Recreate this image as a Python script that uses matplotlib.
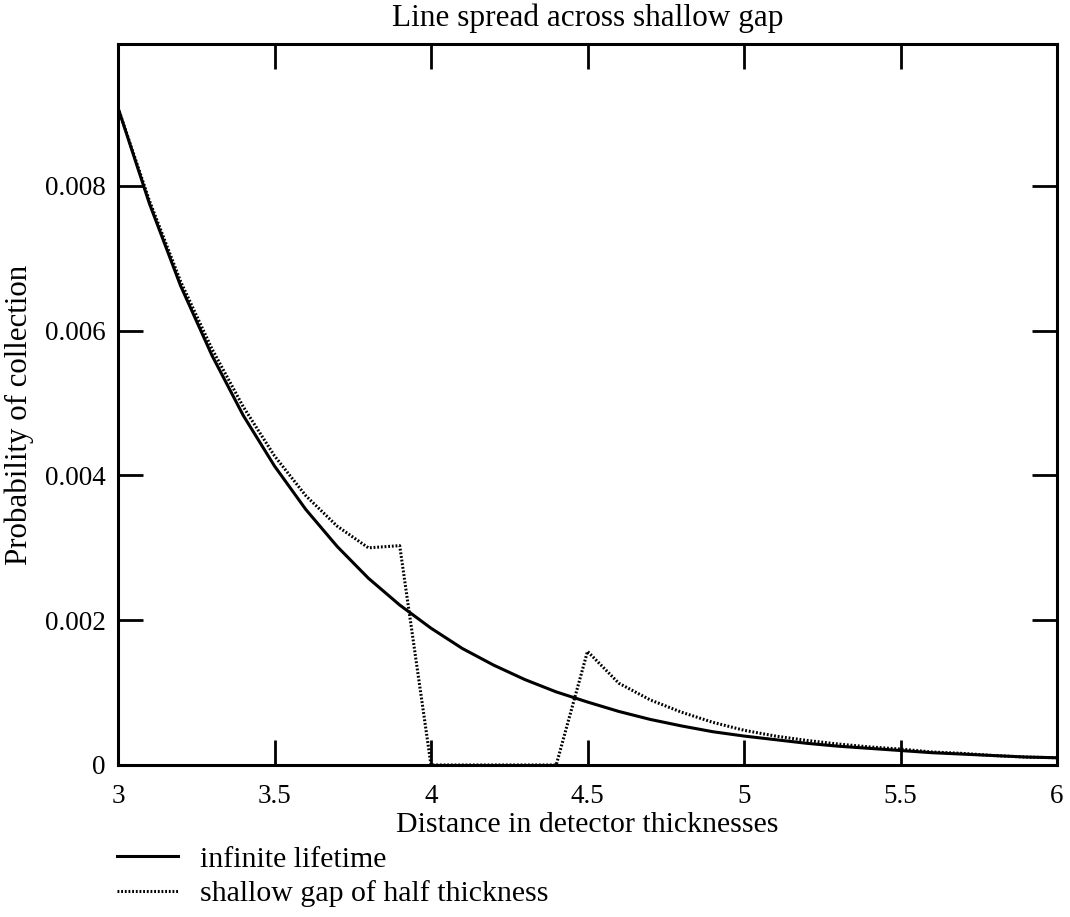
import matplotlib
matplotlib.use("Agg")
import matplotlib.pyplot as plt
from matplotlib.lines import Line2D

plt.rcParams['font.family'] = ['Liberation Serif', 'DejaVu Serif']

x = [3.0, 3.1, 3.2, 3.3, 3.4, 3.5, 3.6, 3.7, 3.8, 3.9, 4.0,
     4.1, 4.2, 4.3, 4.4, 4.5, 4.6, 4.7, 4.8, 4.9, 5.0,
     5.1, 5.2, 5.3, 5.4, 5.5, 5.6, 5.7, 5.8, 5.9, 6.0]
infinite = [0.00908, 0.00776, 0.00662, 0.00566, 0.00483, 0.00413, 0.00353, 0.00302, 0.00258, 0.00221, 0.00189,
            0.00161, 0.00138, 0.00118, 0.00101, 0.00087, 0.00074, 0.00063, 0.00054, 0.00046, 0.00040,
            0.00035, 0.00030, 0.00026, 0.00023, 0.00020, 0.00017, 0.00015, 0.00013, 0.00011, 0.00010]
shallow = [0.00908, 0.00780, 0.00668, 0.00575, 0.00495, 0.00427, 0.00372, 0.00330, 0.00300, 0.00303, 0.0,
           0.0, 0.0, 0.0, 0.0, 0.00157, 0.00113, 0.00090, 0.00073, 0.00059, 0.00048,
           0.00040, 0.00034, 0.00029, 0.00025, 0.00022, 0.00018, 0.00016, 0.00013, 0.00011, 0.00010]
xticks = [3, 3.5, 4, 4.5, 5, 5.5, 6]
xticklabels = ['3', '3.5', '4', '4.5', '5', '5.5', '6']
yticks = [0, 0.002, 0.004, 0.006, 0.008]
yticklabels = ['0', '0.002', '0.004', '0.006', '0.008']

fig = plt.figure(figsize=(10.7, 9.17), dpi=100)
ax = fig.add_axes([118/1070, 1-765/917, (1057-118)/1070, (765-44)/917])
ax.plot(x, infinite, color='black', lw=2.2, solid_capstyle='butt')
ax.plot(x, shallow, color='black', lw=2.2, linestyle=(0, (0.6, 0.6)))
ax.set_xlim(3, 6)
ax.set_ylim(0, 0.00996)
ax.set_xticks(xticks)
ax.set_xticklabels(xticklabels)
ax.set_yticks(yticks)
ax.set_yticklabels(yticklabels)
ax.tick_params(direction='in', length=18, width=2, top=True, right=True, labelsize=19.5)
ax.tick_params(axis='x', pad=14)
ax.tick_params(axis='y', pad=9)
for s in ax.spines.values():
    s.set_linewidth(2.2)
ax.set_title('Line spread across shallow gap', fontsize=22.5, pad=13)
ax.set_xlabel('Distance in detector thicknesses', fontsize=21.5, labelpad=2)
ax.set_ylabel('Probability of collection', fontsize=22.3)
ax.yaxis.set_label_coords(-84/939, 0.485)

handles = [Line2D([], [], color='black', lw=2.2),
           Line2D([], [], color='black', lw=2.2, linestyle=(0, (0.6, 0.6)))]
fig.legend(handles, ['infinite lifetime', 'shallow gap of half thickness'],
           loc='upper left', bbox_to_anchor=(117/1070, 1-846/917), frameon=False,
           fontsize=21.5, handlelength=2.05, handletextpad=0.73, labelspacing=0.25,
           borderpad=0, borderaxespad=0)
fig.savefig('out.png', dpi=100)
